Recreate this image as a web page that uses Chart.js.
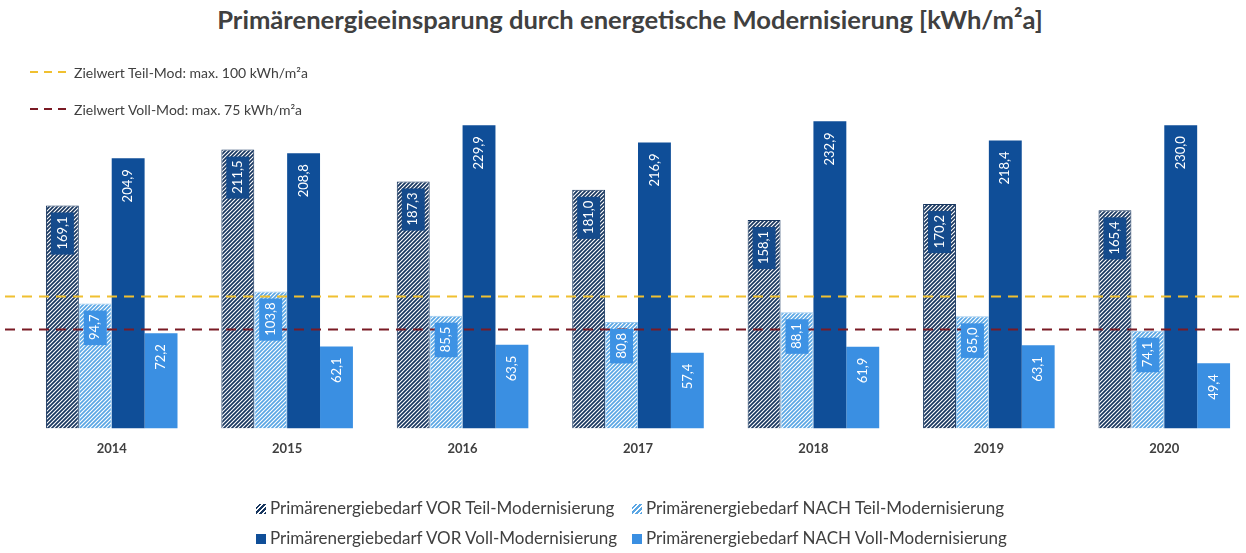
<!DOCTYPE html>
<html lang="de">
<head>
<meta charset="utf-8">
<title>Primärenergieeinsparung</title>
<script src="https://cdn.jsdelivr.net/npm/chart.js@4.4.1/dist/chart.umd.min.js"></script>
<style>
  html, body { margin: 0; padding: 0; background: #fff; overflow: hidden; }
  body { width: 1246px; height: 553px; position: relative; font-family: Lato, "Open Sans", sans-serif; color: #404040; }
  #title { position: absolute; top: 4px; left: 7px; width: 1246px; text-align: center; font-size: 25.6px; font-weight: bold; }
  #chart { position: absolute; left: 0; top: 0; }
  #targets { position: absolute; left: 30px; top: 64px; font-size: 14px; }
  #targets div { height: 37px; display: flex; align-items: flex-start; }
  #targets svg { margin-right: 8px; margin-top: 5px; }
  #legend { position: absolute; left: 256px; top: 497px; display: grid; grid-template-columns: 376px 380px; row-gap: 9px; font-size: 17px; line-height: 21px; }
  #legend span.sw { display: inline-block; width: 10px; height: 10px; margin-right: 4px; vertical-align: 0px; }
</style>
</head>
<body>
<div id="title">Primärenergieeinsparung durch energetische Modernisierung [kWh/m²a]</div>
<canvas id="chart" width="1254" height="553"></canvas>
<div id="targets"></div>
<div id="legend"></div>
<script>
// Daten
const jahre = ["2014", "2015", "2016", "2017", "2018", "2019", "2020"];
const vorTeil = [169.1, 211.5, 187.3, 181.0, 158.1, 170.2, 165.4];
const nachTeil = [94.7, 103.8, 85.5, 80.8, 88.1, 85.0, 74.1];
const vorVoll = [204.9, 208.8, 229.9, 216.9, 232.9, 218.4, 230.0];
const nachVoll = [72.2, 62.1, 63.5, 57.4, 61.9, 63.1, 49.4];
const zielWerte = [100, 75];
const zielLabels = ["Zielwert Teil-Mod: max. 100 kWh/m²a", "Zielwert Voll-Mod: max. 75 kWh/m²a"];
const zielFarben = ["#f0c030", "#7a1a24"];

const navy = "#17365f";
const hellHatch = "#5aa6e4";
const dunkelBlau = "#0f4e98";
const hellBlau = "#3a8fe2";

function hatch(color) {
    const c = document.createElement("canvas");
    c.width = 4; c.height = 4;
    const g = c.getContext("2d");
    g.fillStyle = "#fff";
    g.fillRect(0, 0, 4, 4);
    g.strokeStyle = color;
    g.lineWidth = 1.7;
    g.beginPath();
    g.moveTo(-1, 5); g.lineTo(5, -1);
    g.moveTo(-1, 1); g.lineTo(1, -1);
    g.moveTo(3, 5); g.lineTo(5, 3);
    g.stroke();
    return g.createPattern(c, "repeat");
}

const fmt = v => v.toFixed(1).replace(".", ",");

// Zielwert-Linien quer über die ganze Breite
const zielPlugin = {
    id: "ziel",
    afterDatasetsDraw(chart) {
        const ctx = chart.ctx;
        const y = chart.scales.y;
        ctx.save();
        ctx.lineWidth = 2;
        ctx.setLineDash([10, 7]);
        zielWerte.forEach((v, i) => {
            const py = y.getPixelForValue(v);
            ctx.strokeStyle = zielFarben[i];
            ctx.beginPath();
            ctx.moveTo(5, py);
            ctx.lineTo(chart.width, py);
            ctx.stroke();
        });
        ctx.restore();
    }
};

// Werte senkrecht in die Balken schreiben
const labelPlugin = {
    id: "werte",
    afterDraw(chart) {
        const ctx = chart.ctx;
        ctx.save();
        ctx.font = "13px Lato, sans-serif";
        ctx.textBaseline = "middle";
        ctx.textAlign = "right";
        chart.data.datasets.forEach((ds, di) => {
            const meta = chart.getDatasetMeta(di);
            meta.data.forEach((bar, i) => {
                const txt = fmt(ds.data[i]);
                const w = ctx.measureText(txt).width;
                ctx.save();
                ctx.translate(bar.x, bar.y + 11);
                ctx.rotate(-Math.PI / 2);
                if (ds.labelBox) {
                    ctx.fillStyle = ds.labelBox;
                    ctx.fillRect(-w - 5, -11.5, w + 9, 23);
                }
                ctx.fillStyle = "#fff";
                ctx.fillText(txt, 0, 0);
                ctx.restore();
            });
        });
        ctx.restore();
    }
};

const chart = new Chart(document.getElementById("chart"), {
    type: "bar",
    data: {
        labels: jahre,
        datasets: [
            { label: "Primärenergiebedarf VOR Teil-Modernisierung", data: vorTeil, backgroundColor: hatch(navy), borderColor: navy, borderWidth: 1, labelBox: "#154b8c", swatch: "hatch:" + navy },
            { label: "Primärenergiebedarf NACH Teil-Modernisierung", data: nachTeil, backgroundColor: hatch(hellHatch), borderColor: "#9ccaf0", borderWidth: 1, labelBox: "#3d92e4", swatch: "hatch:" + hellHatch },
            { label: "Primärenergiebedarf VOR Voll-Modernisierung", data: vorVoll, backgroundColor: dunkelBlau, swatch: dunkelBlau },
            { label: "Primärenergiebedarf NACH Voll-Modernisierung", data: nachVoll, backgroundColor: hellBlau, swatch: hellBlau }
        ]
    },
    options: {
        responsive: false,
        animation: false,
        layout: { padding: { left: 24, right: 2, top: 112, bottom: 91 } },
        datasets: { bar: { categoryPercentage: 0.75, barPercentage: 1.0 } },
        scales: {
            x: {
                grid: { display: false },
                border: { display: false },
                ticks: { color: "#404040", padding: 5, font: { family: "Lato", size: 13, weight: "bold" } }
            },
            y: { display: false, min: 0, max: 240 }
        },
        plugins: {
            legend: { display: false },
            tooltip: { enabled: false }
        }
    },
    plugins: [zielPlugin, labelPlugin]
});

// Zielwert-Legende oben links
const targets = document.getElementById("targets");
zielLabels.forEach((t, i) => {
    const d = document.createElement("div");
    d.innerHTML = '<svg width="36" height="6"><line x1="0" y1="3" x2="36" y2="3" stroke="' + zielFarben[i] +
        '" stroke-width="2" stroke-dasharray="8,6"/></svg><span>' + t + "</span>";
    targets.appendChild(d);
});

// Legende unten
const legend = document.getElementById("legend");
chart.data.datasets.forEach(ds => {
    const d = document.createElement("div");
    let bg = ds.swatch;
    if (bg.startsWith("hatch:")) {
        const c = bg.slice(6);
        bg = "repeating-linear-gradient(-45deg, " + c + " 0 1.5px, #fff 1.5px 3.5px)";
    }
    d.innerHTML = '<span class="sw" style="background:' + bg + '"></span>' + ds.label;
    legend.appendChild(d);
});
</script>
</body>
</html>
